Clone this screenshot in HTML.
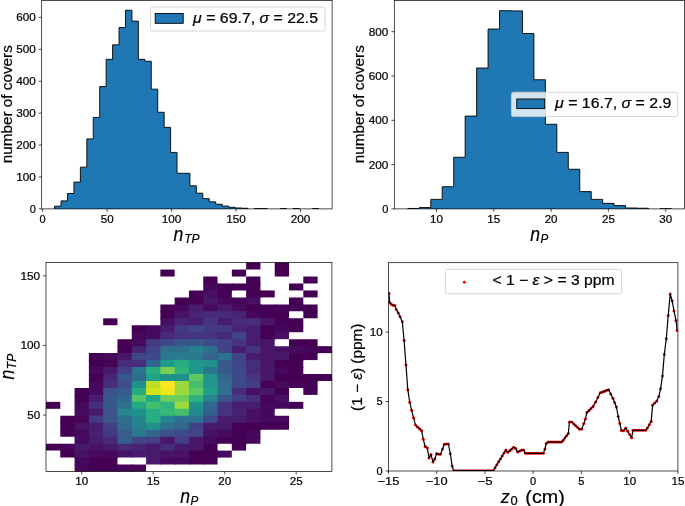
<!DOCTYPE html>
<html><head><meta charset="utf-8"><title>chart</title>
<style>html,body{margin:0;padding:0;background:#fff}svg{display:block;will-change:transform}text{filter:grayscale(1);stroke:#000;stroke-width:0.22px;font-family:"Liberation Sans",sans-serif}</style>
</head><body>
<svg width="685" height="506" viewBox="0 0 685 506" font-family="Liberation Sans, sans-serif">
<rect width="685" height="506" fill="#fff"/>
<clipPath id="c1"><rect x="41.7" y="0.5" width="290.40000000000003" height="208.4"/></clipPath>
<g clip-path="url(#c1)"><path d="M54.60,208.90L54.60,206.17L61.04,206.17L61.04,200.88L67.49,200.88L67.49,193.49L73.93,193.49L73.93,182.10L80.38,182.10L80.38,167.17L86.82,167.17L86.82,138.92L93.26,138.92L93.26,117.42L99.71,117.42L99.71,86.60L106.15,86.60L106.15,59.32L112.60,59.32L112.60,44.87L119.04,44.87L119.04,27.54L125.48,27.54L125.48,10.21L131.93,10.21L131.93,21.12L138.37,21.12L138.37,59.32L144.82,59.32L144.82,61.24L151.26,61.24L151.26,89.17L157.70,89.17L157.70,112.28L164.15,112.28L164.15,127.37L170.59,127.37L170.59,152.41L177.04,152.41L177.04,173.27L183.48,173.27L183.48,173.27L189.92,173.27L189.92,185.79L196.37,185.79L196.37,193.17L202.81,193.17L202.81,198.63L209.26,198.63L209.26,201.84L215.70,201.84L215.70,204.25L222.14,204.25L222.14,206.01L228.59,206.01L228.59,207.30L235.03,207.30L235.03,207.94L241.48,207.94L241.48,208.26L247.92,208.26L247.92,208.90L254.36,208.90L254.36,208.58L260.81,208.58L260.81,208.58L267.25,208.58L267.25,208.90L273.70,208.90L273.70,208.90L280.14,208.90L280.14,208.58L286.58,208.58L286.58,208.90L293.03,208.90L293.03,208.58L299.47,208.58L299.47,208.90L305.92,208.90L305.92,208.90L312.36,208.90L312.36,208.58L318.80,208.58L318.80,208.90Z" fill="#1f77b4"/><path d="M54.60,208.90L54.60,206.17L61.04,206.17L61.04,200.88L67.49,200.88L67.49,193.49L73.93,193.49L73.93,182.10L80.38,182.10L80.38,167.17L86.82,167.17L86.82,138.92L93.26,138.92L93.26,117.42L99.71,117.42L99.71,86.60L106.15,86.60L106.15,59.32L112.60,59.32L112.60,44.87L119.04,44.87L119.04,27.54L125.48,27.54L125.48,10.21L131.93,10.21L131.93,21.12L138.37,21.12L138.37,59.32L144.82,59.32L144.82,61.24L151.26,61.24L151.26,89.17L157.70,89.17L157.70,112.28L164.15,112.28L164.15,127.37L170.59,127.37L170.59,152.41L177.04,152.41L177.04,173.27L183.48,173.27L183.48,173.27L189.92,173.27L189.92,185.79L196.37,185.79L196.37,193.17L202.81,193.17L202.81,198.63L209.26,198.63L209.26,201.84L215.70,201.84L215.70,204.25L222.14,204.25L222.14,206.01L228.59,206.01L228.59,207.30L235.03,207.30L235.03,207.94L241.48,207.94L241.48,208.26L247.92,208.26L247.92,208.90M254.36,208.90L254.36,208.58L260.81,208.58L260.81,208.58L267.25,208.58L267.25,208.90M280.14,208.90L280.14,208.58L286.58,208.58L286.58,208.90M293.03,208.90L293.03,208.58L299.47,208.58L299.47,208.90M312.36,208.90L312.36,208.58L318.80,208.58L318.80,208.90" fill="none" stroke="#000" stroke-width="0.9" stroke-linejoin="miter"/></g>
<rect x="41.70" y="0.50" width="290.40" height="208.40" fill="none" stroke="#000" stroke-width="0.7"/>
<line x1="41.70" y1="208.90" x2="38.80" y2="208.90" stroke="#000" stroke-width="0.7"/>
<text x="35.80" y="212.80" font-size="10.81" text-anchor="end" fill="#000" textLength="6.14" lengthAdjust="spacingAndGlyphs">0</text>
<line x1="41.70" y1="176.97" x2="38.80" y2="176.97" stroke="#000" stroke-width="0.7"/>
<text x="35.80" y="180.87" font-size="10.81" text-anchor="end" fill="#000" textLength="19.63" lengthAdjust="spacingAndGlyphs">100</text>
<line x1="41.70" y1="145.04" x2="38.80" y2="145.04" stroke="#000" stroke-width="0.7"/>
<text x="35.80" y="148.94" font-size="10.81" text-anchor="end" fill="#000" textLength="19.63" lengthAdjust="spacingAndGlyphs">200</text>
<line x1="41.70" y1="113.11" x2="38.80" y2="113.11" stroke="#000" stroke-width="0.7"/>
<text x="35.80" y="117.01" font-size="10.81" text-anchor="end" fill="#000" textLength="19.63" lengthAdjust="spacingAndGlyphs">300</text>
<line x1="41.70" y1="81.18" x2="38.80" y2="81.18" stroke="#000" stroke-width="0.7"/>
<text x="35.80" y="85.08" font-size="10.81" text-anchor="end" fill="#000" textLength="19.63" lengthAdjust="spacingAndGlyphs">400</text>
<line x1="41.70" y1="49.25" x2="38.80" y2="49.25" stroke="#000" stroke-width="0.7"/>
<text x="35.80" y="53.15" font-size="10.81" text-anchor="end" fill="#000" textLength="19.63" lengthAdjust="spacingAndGlyphs">500</text>
<line x1="41.70" y1="17.32" x2="38.80" y2="17.32" stroke="#000" stroke-width="0.7"/>
<text x="35.80" y="21.22" font-size="10.81" text-anchor="end" fill="#000" textLength="19.63" lengthAdjust="spacingAndGlyphs">600</text>
<line x1="42.70" y1="208.90" x2="42.70" y2="211.80" stroke="#000" stroke-width="0.7"/>
<text x="42.70" y="222.50" font-size="10.81" text-anchor="middle" fill="#000" textLength="6.14" lengthAdjust="spacingAndGlyphs">0</text>
<line x1="107.14" y1="208.90" x2="107.14" y2="211.80" stroke="#000" stroke-width="0.7"/>
<text x="107.14" y="222.50" font-size="10.81" text-anchor="middle" fill="#000" textLength="12.89" lengthAdjust="spacingAndGlyphs">50</text>
<line x1="171.57" y1="208.90" x2="171.57" y2="211.80" stroke="#000" stroke-width="0.7"/>
<text x="171.57" y="222.50" font-size="10.81" text-anchor="middle" fill="#000" textLength="19.63" lengthAdjust="spacingAndGlyphs">100</text>
<line x1="236.00" y1="208.90" x2="236.00" y2="211.80" stroke="#000" stroke-width="0.7"/>
<text x="236.00" y="222.50" font-size="10.81" text-anchor="middle" fill="#000" textLength="19.63" lengthAdjust="spacingAndGlyphs">150</text>
<line x1="300.44" y1="208.90" x2="300.44" y2="211.80" stroke="#000" stroke-width="0.7"/>
<text x="300.44" y="222.50" font-size="10.81" text-anchor="middle" fill="#000" textLength="19.63" lengthAdjust="spacingAndGlyphs">200</text>
<text x="12.50" y="104.20" font-size="14.30" text-anchor="middle" fill="#000" textLength="118.00" lengthAdjust="spacingAndGlyphs" transform="rotate(-90 12.50 104.20)">number of covers</text>
<text x="173.50" y="240.60" font-size="20.20" text-anchor="start" fill="#000" font-style="italic" textLength="9.80" lengthAdjust="spacingAndGlyphs">n</text>
<text x="184.20" y="242.80" font-size="12.65" text-anchor="start" fill="#000" font-style="italic" textLength="15.40" lengthAdjust="spacingAndGlyphs">TP</text>
<rect x="150.50" y="7.00" width="174.60" height="24.00" rx="2.2" fill="#fff" fill-opacity="0.8" stroke="#ccc" stroke-width="0.8"/>
<rect x="155.2" y="13.5" width="28" height="9.8" fill="#1f77b4" stroke="#000" stroke-width="0.9"/>
<text x="193.10" y="23.40" font-size="13.9" textLength="125.00" lengthAdjust="spacingAndGlyphs"><tspan font-style="italic">μ</tspan> = 69.7, <tspan font-style="italic">σ</tspan> = 22.5</text>
<clipPath id="c2"><rect x="394.3" y="0.5" width="290.2" height="208.4"/></clipPath>
<g clip-path="url(#c2)"><path d="M407.85,208.90L407.85,208.46L419.31,208.46L419.31,207.57L430.77,207.57L430.77,199.38L442.23,199.38L442.23,186.75L453.69,186.75L453.69,157.29L465.15,157.29L465.15,116.09L476.61,116.09L476.61,68.03L488.07,68.03L488.07,29.04L499.53,29.04L499.53,10.66L510.99,10.66L510.99,10.88L522.45,10.88L522.45,33.47L533.91,33.47L533.91,79.77L545.37,79.77L545.37,124.29L556.83,124.29L556.83,152.42L568.29,152.42L568.29,169.25L579.75,169.25L579.75,191.62L591.21,191.62L591.21,199.38L602.67,199.38L602.67,203.36L614.13,203.36L614.13,205.58L625.59,205.58L625.59,208.01L637.05,208.01L637.05,208.24L648.51,208.24L648.51,208.90L659.97,208.90L659.97,208.68L671.43,208.68L671.43,208.90Z" fill="#1f77b4"/><path d="M407.85,208.90L407.85,208.46L419.31,208.46L419.31,207.57L430.77,207.57L430.77,199.38L442.23,199.38L442.23,186.75L453.69,186.75L453.69,157.29L465.15,157.29L465.15,116.09L476.61,116.09L476.61,68.03L488.07,68.03L488.07,29.04L499.53,29.04L499.53,10.66L510.99,10.66L510.99,10.88L522.45,10.88L522.45,33.47L533.91,33.47L533.91,79.77L545.37,79.77L545.37,124.29L556.83,124.29L556.83,152.42L568.29,152.42L568.29,169.25L579.75,169.25L579.75,191.62L591.21,191.62L591.21,199.38L602.67,199.38L602.67,203.36L614.13,203.36L614.13,205.58L625.59,205.58L625.59,208.01L637.05,208.01L637.05,208.24L648.51,208.24L648.51,208.90M659.97,208.90L659.97,208.68L671.43,208.68L671.43,208.90" fill="none" stroke="#000" stroke-width="0.9" stroke-linejoin="miter"/></g>
<rect x="394.30" y="0.50" width="290.20" height="208.40" fill="none" stroke="#000" stroke-width="0.7"/>
<line x1="394.30" y1="208.90" x2="391.40" y2="208.90" stroke="#000" stroke-width="0.7"/>
<text x="388.40" y="212.80" font-size="10.81" text-anchor="end" fill="#000" textLength="6.14" lengthAdjust="spacingAndGlyphs">0</text>
<line x1="394.30" y1="164.60" x2="391.40" y2="164.60" stroke="#000" stroke-width="0.7"/>
<text x="388.40" y="168.50" font-size="10.81" text-anchor="end" fill="#000" textLength="19.63" lengthAdjust="spacingAndGlyphs">200</text>
<line x1="394.30" y1="120.30" x2="391.40" y2="120.30" stroke="#000" stroke-width="0.7"/>
<text x="388.40" y="124.20" font-size="10.81" text-anchor="end" fill="#000" textLength="19.63" lengthAdjust="spacingAndGlyphs">400</text>
<line x1="394.30" y1="76.00" x2="391.40" y2="76.00" stroke="#000" stroke-width="0.7"/>
<text x="388.40" y="79.90" font-size="10.81" text-anchor="end" fill="#000" textLength="19.63" lengthAdjust="spacingAndGlyphs">600</text>
<line x1="394.30" y1="31.70" x2="391.40" y2="31.70" stroke="#000" stroke-width="0.7"/>
<text x="388.40" y="35.60" font-size="10.81" text-anchor="end" fill="#000" textLength="19.63" lengthAdjust="spacingAndGlyphs">800</text>
<line x1="436.50" y1="208.90" x2="436.50" y2="211.80" stroke="#000" stroke-width="0.7"/>
<text x="436.50" y="222.50" font-size="10.81" text-anchor="middle" fill="#000" textLength="12.89" lengthAdjust="spacingAndGlyphs">10</text>
<line x1="493.80" y1="208.90" x2="493.80" y2="211.80" stroke="#000" stroke-width="0.7"/>
<text x="493.80" y="222.50" font-size="10.81" text-anchor="middle" fill="#000" textLength="12.89" lengthAdjust="spacingAndGlyphs">15</text>
<line x1="551.10" y1="208.90" x2="551.10" y2="211.80" stroke="#000" stroke-width="0.7"/>
<text x="551.10" y="222.50" font-size="10.81" text-anchor="middle" fill="#000" textLength="12.89" lengthAdjust="spacingAndGlyphs">20</text>
<line x1="608.40" y1="208.90" x2="608.40" y2="211.80" stroke="#000" stroke-width="0.7"/>
<text x="608.40" y="222.50" font-size="10.81" text-anchor="middle" fill="#000" textLength="12.89" lengthAdjust="spacingAndGlyphs">25</text>
<line x1="665.70" y1="208.90" x2="665.70" y2="211.80" stroke="#000" stroke-width="0.7"/>
<text x="665.70" y="222.50" font-size="10.81" text-anchor="middle" fill="#000" textLength="12.89" lengthAdjust="spacingAndGlyphs">30</text>
<text x="364.30" y="104.20" font-size="14.30" text-anchor="middle" fill="#000" textLength="118.00" lengthAdjust="spacingAndGlyphs" transform="rotate(-90 364.30 104.20)">number of covers</text>
<text x="530.20" y="240.60" font-size="20.20" text-anchor="start" fill="#000" font-style="italic" textLength="9.80" lengthAdjust="spacingAndGlyphs">n</text>
<text x="540.60" y="242.80" font-size="12.65" text-anchor="start" fill="#000" font-style="italic" textLength="7.80" lengthAdjust="spacingAndGlyphs">P</text>
<rect x="511.40" y="92.20" width="166.30" height="24.40" rx="2.2" fill="#fff" fill-opacity="0.8" stroke="#ccc" stroke-width="0.8"/>
<rect x="516.8" y="99.0" width="27.9" height="9.6" fill="#1f77b4" stroke="#000" stroke-width="0.9"/>
<text x="555.00" y="108.10" font-size="13.9" textLength="116.40" lengthAdjust="spacingAndGlyphs"><tspan font-style="italic">μ</tspan> = 16.7, <tspan font-style="italic">σ</tspan> = 2.9</text>
<g>
<path d="M246.13,262.60h14.29v6.96h-14.29z" fill="#440154"/>
<path d="M274.72,262.60h14.29v6.96h-14.29zM274.72,269.46h14.29v1.10h-14.29z" fill="#440154"/>
<path d="M160.36,269.56h14.29v6.96h-14.29z" fill="#440154"/>
<path d="M231.83,269.56h14.29v6.96h-14.29z" fill="#440154"/>
<path d="M274.72,269.56h14.29v6.96h-14.29z" fill="#440154"/>
<path d="M203.24,276.53h14.29v6.96h-14.29zM203.24,283.39h14.29v1.10h-14.29z" fill="#440154"/>
<path d="M246.13,276.53h14.29v6.96h-14.29zM246.13,283.39h14.29v1.10h-14.29z" fill="#440154"/>
<path d="M303.31,276.53h14.29v6.96h-14.29z" fill="#440154"/>
<path d="M203.24,283.49h14.29v6.96h-14.29zM217.44,283.49h1.10v6.96h-1.10zM203.24,290.35h14.29v1.10h-14.29z" fill="#46085c"/>
<path d="M217.54,283.49h14.29v6.96h-14.29zM231.73,283.49h1.10v6.96h-1.10zM217.54,290.35h14.29v1.10h-14.29z" fill="#440154"/>
<path d="M231.83,283.49h14.29v6.96h-14.29zM246.03,283.49h1.10v6.96h-1.10z" fill="#440154"/>
<path d="M246.13,283.49h14.29v6.96h-14.29zM246.13,290.35h14.29v1.10h-14.29z" fill="#440154"/>
<path d="M289.01,283.49h14.29v6.96h-14.29z" fill="#440154"/>
<path d="M188.95,290.45h14.29v6.96h-14.29zM203.14,290.45h1.10v6.96h-1.10zM188.95,297.32h14.29v1.10h-14.29z" fill="#450457"/>
<path d="M203.24,290.45h14.29v6.96h-14.29zM217.44,290.45h1.10v6.96h-1.10zM203.24,297.32h14.29v1.10h-14.29z" fill="#471063"/>
<path d="M217.54,290.45h14.29v6.96h-14.29zM217.54,297.32h14.29v1.10h-14.29z" fill="#440154"/>
<path d="M246.13,290.45h14.29v6.96h-14.29zM260.32,290.45h1.10v6.96h-1.10zM246.13,297.32h14.29v1.10h-14.29z" fill="#440154"/>
<path d="M260.42,290.45h14.29v6.96h-14.29z" fill="#440154"/>
<path d="M303.31,290.45h14.29v6.96h-14.29z" fill="#440154"/>
<path d="M174.65,297.42h14.29v6.96h-14.29zM188.85,297.42h1.10v6.96h-1.10zM174.65,304.28h14.29v1.10h-14.29z" fill="#440154"/>
<path d="M188.95,297.42h14.29v6.96h-14.29zM203.14,297.42h1.10v6.96h-1.10zM188.95,304.28h14.29v1.10h-14.29z" fill="#440154"/>
<path d="M203.24,297.42h14.29v6.96h-14.29zM217.44,297.42h1.10v6.96h-1.10zM203.24,304.28h14.29v1.10h-14.29z" fill="#481769"/>
<path d="M217.54,297.42h14.29v6.96h-14.29zM231.73,297.42h1.10v6.96h-1.10zM217.54,304.28h14.29v1.10h-14.29z" fill="#46085c"/>
<path d="M231.83,297.42h14.29v6.96h-14.29zM246.03,297.42h1.10v6.96h-1.10zM231.83,304.28h14.29v1.10h-14.29z" fill="#450457"/>
<path d="M246.13,297.42h14.29v6.96h-14.29zM246.13,304.28h14.29v1.10h-14.29z" fill="#471063"/>
<path d="M289.01,297.42h14.29v6.96h-14.29zM289.01,304.28h14.29v1.10h-14.29z" fill="#440154"/>
<path d="M160.36,304.38h14.29v6.96h-14.29zM174.55,304.38h1.10v6.96h-1.10zM160.36,311.24h14.29v1.10h-14.29z" fill="#440154"/>
<path d="M174.65,304.38h14.29v6.96h-14.29zM188.85,304.38h1.10v6.96h-1.10zM174.65,311.24h14.29v1.10h-14.29z" fill="#46085c"/>
<path d="M188.95,304.38h14.29v6.96h-14.29zM203.14,304.38h1.10v6.96h-1.10zM188.95,311.24h14.29v1.10h-14.29z" fill="#481d6f"/>
<path d="M203.24,304.38h14.29v6.96h-14.29zM217.44,304.38h1.10v6.96h-1.10zM203.24,311.24h14.29v1.10h-14.29z" fill="#460b5e"/>
<path d="M217.54,304.38h14.29v6.96h-14.29zM231.73,304.38h1.10v6.96h-1.10zM217.54,311.24h14.29v1.10h-14.29z" fill="#481a6c"/>
<path d="M231.83,304.38h14.29v6.96h-14.29zM246.03,304.38h1.10v6.96h-1.10zM231.83,311.24h14.29v1.10h-14.29z" fill="#460b5e"/>
<path d="M246.13,304.38h14.29v6.96h-14.29zM260.32,304.38h1.10v6.96h-1.10zM246.13,311.24h14.29v1.10h-14.29z" fill="#440154"/>
<path d="M260.42,304.38h14.29v6.96h-14.29zM274.62,304.38h1.10v6.96h-1.10zM260.42,311.24h14.29v1.10h-14.29z" fill="#440154"/>
<path d="M274.72,304.38h14.29v6.96h-14.29zM288.91,304.38h1.10v6.96h-1.10zM274.72,311.24h14.29v1.10h-14.29z" fill="#450457"/>
<path d="M289.01,304.38h14.29v6.96h-14.29zM303.21,304.38h1.10v6.96h-1.10z" fill="#450457"/>
<path d="M303.31,304.38h14.29v6.96h-14.29zM303.31,311.24h14.29v1.10h-14.29z" fill="#440154"/>
<path d="M160.36,311.34h14.29v6.96h-14.29zM174.55,311.34h1.10v6.96h-1.10zM160.36,318.21h14.29v1.10h-14.29z" fill="#440154"/>
<path d="M174.65,311.34h14.29v6.96h-14.29zM188.85,311.34h1.10v6.96h-1.10zM174.65,318.21h14.29v1.10h-14.29z" fill="#471365"/>
<path d="M188.95,311.34h14.29v6.96h-14.29zM203.14,311.34h1.10v6.96h-1.10zM188.95,318.21h14.29v1.10h-14.29z" fill="#482475"/>
<path d="M203.24,311.34h14.29v6.96h-14.29zM217.44,311.34h1.10v6.96h-1.10zM203.24,318.21h14.29v1.10h-14.29z" fill="#472a7a"/>
<path d="M217.54,311.34h14.29v6.96h-14.29zM231.73,311.34h1.10v6.96h-1.10zM217.54,318.21h14.29v1.10h-14.29z" fill="#472a7a"/>
<path d="M231.83,311.34h14.29v6.96h-14.29zM246.03,311.34h1.10v6.96h-1.10zM231.83,318.21h14.29v1.10h-14.29z" fill="#482475"/>
<path d="M246.13,311.34h14.29v6.96h-14.29zM260.32,311.34h1.10v6.96h-1.10zM246.13,318.21h14.29v1.10h-14.29z" fill="#46085c"/>
<path d="M260.42,311.34h14.29v6.96h-14.29zM274.62,311.34h1.10v6.96h-1.10zM260.42,318.21h14.29v1.10h-14.29z" fill="#440154"/>
<path d="M274.72,311.34h14.29v6.96h-14.29zM274.72,318.21h14.29v1.10h-14.29z" fill="#440154"/>
<path d="M303.31,311.34h14.29v6.96h-14.29z" fill="#440154"/>
<path d="M103.18,318.31h14.29v6.96h-14.29z" fill="#440154"/>
<path d="M160.36,318.31h14.29v6.96h-14.29zM174.55,318.31h1.10v6.96h-1.10zM160.36,325.17h14.29v1.10h-14.29z" fill="#471063"/>
<path d="M174.65,318.31h14.29v6.96h-14.29zM188.85,318.31h1.10v6.96h-1.10zM174.65,325.17h14.29v1.10h-14.29z" fill="#482475"/>
<path d="M188.95,318.31h14.29v6.96h-14.29zM203.14,318.31h1.10v6.96h-1.10zM188.95,325.17h14.29v1.10h-14.29z" fill="#481d6f"/>
<path d="M203.24,318.31h14.29v6.96h-14.29zM217.44,318.31h1.10v6.96h-1.10zM203.24,325.17h14.29v1.10h-14.29z" fill="#463480"/>
<path d="M217.54,318.31h14.29v6.96h-14.29zM231.73,318.31h1.10v6.96h-1.10zM217.54,325.17h14.29v1.10h-14.29z" fill="#481a6c"/>
<path d="M231.83,318.31h14.29v6.96h-14.29zM246.03,318.31h1.10v6.96h-1.10zM231.83,325.17h14.29v1.10h-14.29z" fill="#472a7a"/>
<path d="M246.13,318.31h14.29v6.96h-14.29zM260.32,318.31h1.10v6.96h-1.10zM246.13,325.17h14.29v1.10h-14.29z" fill="#472e7c"/>
<path d="M260.42,318.31h14.29v6.96h-14.29zM274.62,318.31h1.10v6.96h-1.10zM260.42,325.17h14.29v1.10h-14.29z" fill="#481769"/>
<path d="M274.72,318.31h14.29v6.96h-14.29zM288.91,318.31h1.10v6.96h-1.10zM274.72,325.17h14.29v1.10h-14.29z" fill="#450457"/>
<path d="M289.01,318.31h14.29v6.96h-14.29zM289.01,325.17h14.29v1.10h-14.29z" fill="#440154"/>
<path d="M131.77,325.27h14.29v6.96h-14.29zM145.96,325.27h1.10v6.96h-1.10zM131.77,332.13h14.29v1.10h-14.29z" fill="#440154"/>
<path d="M146.06,325.27h14.29v6.96h-14.29zM160.26,325.27h1.10v6.96h-1.10zM146.06,332.13h14.29v1.10h-14.29z" fill="#460b5e"/>
<path d="M160.36,325.27h14.29v6.96h-14.29zM174.55,325.27h1.10v6.96h-1.10zM160.36,332.13h14.29v1.10h-14.29z" fill="#481d6f"/>
<path d="M174.65,325.27h14.29v6.96h-14.29zM188.85,325.27h1.10v6.96h-1.10zM174.65,332.13h14.29v1.10h-14.29z" fill="#443a83"/>
<path d="M188.95,325.27h14.29v6.96h-14.29zM203.14,325.27h1.10v6.96h-1.10zM188.95,332.13h14.29v1.10h-14.29z" fill="#414487"/>
<path d="M203.24,325.27h14.29v6.96h-14.29zM217.44,325.27h1.10v6.96h-1.10zM203.24,332.13h14.29v1.10h-14.29z" fill="#443a83"/>
<path d="M217.54,325.27h14.29v6.96h-14.29zM231.73,325.27h1.10v6.96h-1.10zM217.54,332.13h14.29v1.10h-14.29z" fill="#443a83"/>
<path d="M231.83,325.27h14.29v6.96h-14.29zM246.03,325.27h1.10v6.96h-1.10zM231.83,332.13h14.29v1.10h-14.29z" fill="#482475"/>
<path d="M246.13,325.27h14.29v6.96h-14.29zM260.32,325.27h1.10v6.96h-1.10zM246.13,332.13h14.29v1.10h-14.29z" fill="#481d6f"/>
<path d="M260.42,325.27h14.29v6.96h-14.29zM274.62,325.27h1.10v6.96h-1.10zM260.42,332.13h14.29v1.10h-14.29z" fill="#440154"/>
<path d="M274.72,325.27h14.29v6.96h-14.29zM288.91,325.27h1.10v6.96h-1.10zM274.72,332.13h14.29v1.10h-14.29z" fill="#46085c"/>
<path d="M289.01,325.27h14.29v6.96h-14.29z" fill="#440154"/>
<path d="M131.77,332.23h14.29v6.96h-14.29zM145.96,332.23h1.10v6.96h-1.10zM131.77,339.10h14.29v1.10h-14.29z" fill="#46085c"/>
<path d="M146.06,332.23h14.29v6.96h-14.29zM160.26,332.23h1.10v6.96h-1.10zM146.06,339.10h14.29v1.10h-14.29z" fill="#460b5e"/>
<path d="M160.36,332.23h14.29v6.96h-14.29zM174.55,332.23h1.10v6.96h-1.10zM160.36,339.10h14.29v1.10h-14.29z" fill="#472a7a"/>
<path d="M174.65,332.23h14.29v6.96h-14.29zM188.85,332.23h1.10v6.96h-1.10zM174.65,339.10h14.29v1.10h-14.29z" fill="#463480"/>
<path d="M188.95,332.23h14.29v6.96h-14.29zM203.14,332.23h1.10v6.96h-1.10zM188.95,339.10h14.29v1.10h-14.29z" fill="#463480"/>
<path d="M203.24,332.23h14.29v6.96h-14.29zM217.44,332.23h1.10v6.96h-1.10zM203.24,339.10h14.29v1.10h-14.29z" fill="#463480"/>
<path d="M217.54,332.23h14.29v6.96h-14.29zM231.73,332.23h1.10v6.96h-1.10zM217.54,339.10h14.29v1.10h-14.29z" fill="#472a7a"/>
<path d="M231.83,332.23h14.29v6.96h-14.29zM246.03,332.23h1.10v6.96h-1.10zM231.83,339.10h14.29v1.10h-14.29z" fill="#414487"/>
<path d="M246.13,332.23h14.29v6.96h-14.29zM260.32,332.23h1.10v6.96h-1.10zM246.13,339.10h14.29v1.10h-14.29z" fill="#481d6f"/>
<path d="M260.42,332.23h14.29v6.96h-14.29zM274.62,332.23h1.10v6.96h-1.10zM260.42,339.10h14.29v1.10h-14.29z" fill="#440154"/>
<path d="M274.72,332.23h14.29v6.96h-14.29z" fill="#471063"/>
<path d="M117.47,339.20h14.29v6.96h-14.29zM131.67,339.20h1.10v6.96h-1.10zM117.47,346.06h14.29v1.10h-14.29z" fill="#440154"/>
<path d="M131.77,339.20h14.29v6.96h-14.29zM145.96,339.20h1.10v6.96h-1.10zM131.77,346.06h14.29v1.10h-14.29z" fill="#460b5e"/>
<path d="M146.06,339.20h14.29v6.96h-14.29zM160.26,339.20h1.10v6.96h-1.10zM146.06,346.06h14.29v1.10h-14.29z" fill="#443a83"/>
<path d="M160.36,339.20h14.29v6.96h-14.29zM174.55,339.20h1.10v6.96h-1.10zM160.36,346.06h14.29v1.10h-14.29z" fill="#3e4989"/>
<path d="M174.65,339.20h14.29v6.96h-14.29zM188.85,339.20h1.10v6.96h-1.10zM174.65,346.06h14.29v1.10h-14.29z" fill="#38588c"/>
<path d="M188.95,339.20h14.29v6.96h-14.29zM203.14,339.20h1.10v6.96h-1.10zM188.95,346.06h14.29v1.10h-14.29z" fill="#38588c"/>
<path d="M203.24,339.20h14.29v6.96h-14.29zM217.44,339.20h1.10v6.96h-1.10zM203.24,346.06h14.29v1.10h-14.29z" fill="#3e4c8a"/>
<path d="M217.54,339.20h14.29v6.96h-14.29zM231.73,339.20h1.10v6.96h-1.10zM217.54,346.06h14.29v1.10h-14.29z" fill="#414487"/>
<path d="M231.83,339.20h14.29v6.96h-14.29zM246.03,339.20h1.10v6.96h-1.10zM231.83,346.06h14.29v1.10h-14.29z" fill="#463480"/>
<path d="M246.13,339.20h14.29v6.96h-14.29zM260.32,339.20h1.10v6.96h-1.10zM246.13,346.06h14.29v1.10h-14.29z" fill="#481d6f"/>
<path d="M260.42,339.20h14.29v6.96h-14.29zM260.42,346.06h14.29v1.10h-14.29z" fill="#481769"/>
<path d="M289.01,339.20h14.29v6.96h-14.29zM303.21,339.20h1.10v6.96h-1.10zM289.01,346.06h14.29v1.10h-14.29z" fill="#440154"/>
<path d="M303.31,339.20h14.29v6.96h-14.29zM303.31,346.06h14.29v1.10h-14.29z" fill="#440154"/>
<path d="M117.47,346.16h14.29v6.96h-14.29zM131.67,346.16h1.10v6.96h-1.10zM117.47,353.02h14.29v1.10h-14.29z" fill="#440154"/>
<path d="M131.77,346.16h14.29v6.96h-14.29zM145.96,346.16h1.10v6.96h-1.10zM131.77,353.02h14.29v1.10h-14.29z" fill="#482475"/>
<path d="M146.06,346.16h14.29v6.96h-14.29zM160.26,346.16h1.10v6.96h-1.10zM146.06,353.02h14.29v1.10h-14.29z" fill="#414487"/>
<path d="M160.36,346.16h14.29v6.96h-14.29zM174.55,346.16h1.10v6.96h-1.10zM160.36,353.02h14.29v1.10h-14.29z" fill="#2d718e"/>
<path d="M174.65,346.16h14.29v6.96h-14.29zM188.85,346.16h1.10v6.96h-1.10zM174.65,353.02h14.29v1.10h-14.29z" fill="#2d718e"/>
<path d="M188.95,346.16h14.29v6.96h-14.29zM203.14,346.16h1.10v6.96h-1.10zM188.95,353.02h14.29v1.10h-14.29z" fill="#27808e"/>
<path d="M203.24,346.16h14.29v6.96h-14.29zM217.44,346.16h1.10v6.96h-1.10zM203.24,353.02h14.29v1.10h-14.29z" fill="#2d718e"/>
<path d="M217.54,346.16h14.29v6.96h-14.29zM231.73,346.16h1.10v6.96h-1.10zM217.54,353.02h14.29v1.10h-14.29z" fill="#414487"/>
<path d="M231.83,346.16h14.29v6.96h-14.29zM246.03,346.16h1.10v6.96h-1.10zM231.83,353.02h14.29v1.10h-14.29z" fill="#481d6f"/>
<path d="M246.13,346.16h14.29v6.96h-14.29zM260.32,346.16h1.10v6.96h-1.10zM246.13,353.02h14.29v1.10h-14.29z" fill="#463480"/>
<path d="M260.42,346.16h14.29v6.96h-14.29zM274.62,346.16h1.10v6.96h-1.10zM260.42,353.02h14.29v1.10h-14.29z" fill="#481769"/>
<path d="M274.72,346.16h14.29v6.96h-14.29zM288.91,346.16h1.10v6.96h-1.10zM274.72,353.02h14.29v1.10h-14.29z" fill="#471063"/>
<path d="M289.01,346.16h14.29v6.96h-14.29zM303.21,346.16h1.10v6.96h-1.10zM289.01,353.02h14.29v1.10h-14.29z" fill="#460b5e"/>
<path d="M303.31,346.16h14.29v6.96h-14.29zM317.50,346.16h1.10v6.96h-1.10zM303.31,353.02h14.29v1.10h-14.29z" fill="#450457"/>
<path d="M317.60,346.16h14.29v6.96h-14.29z" fill="#440154"/>
<path d="M88.88,353.12h14.29v6.96h-14.29zM103.08,353.12h1.10v6.96h-1.10zM88.88,359.99h14.29v1.10h-14.29z" fill="#440154"/>
<path d="M103.18,353.12h14.29v6.96h-14.29zM117.38,353.12h1.10v6.96h-1.10zM103.18,359.99h14.29v1.10h-14.29z" fill="#46085c"/>
<path d="M117.47,353.12h14.29v6.96h-14.29zM131.67,353.12h1.10v6.96h-1.10zM117.47,359.99h14.29v1.10h-14.29z" fill="#481769"/>
<path d="M131.77,353.12h14.29v6.96h-14.29zM145.96,353.12h1.10v6.96h-1.10zM131.77,359.99h14.29v1.10h-14.29z" fill="#414487"/>
<path d="M146.06,353.12h14.29v6.96h-14.29zM160.26,353.12h1.10v6.96h-1.10zM146.06,359.99h14.29v1.10h-14.29z" fill="#3e4989"/>
<path d="M160.36,353.12h14.29v6.96h-14.29zM174.55,353.12h1.10v6.96h-1.10zM160.36,359.99h14.29v1.10h-14.29z" fill="#2a788e"/>
<path d="M174.65,353.12h14.29v6.96h-14.29zM188.85,353.12h1.10v6.96h-1.10zM174.65,359.99h14.29v1.10h-14.29z" fill="#287d8e"/>
<path d="M188.95,353.12h14.29v6.96h-14.29zM203.14,353.12h1.10v6.96h-1.10zM188.95,359.99h14.29v1.10h-14.29z" fill="#2a788e"/>
<path d="M203.24,353.12h14.29v6.96h-14.29zM217.44,353.12h1.10v6.96h-1.10zM203.24,359.99h14.29v1.10h-14.29z" fill="#32648e"/>
<path d="M217.54,353.12h14.29v6.96h-14.29zM231.73,353.12h1.10v6.96h-1.10zM217.54,359.99h14.29v1.10h-14.29z" fill="#2c738e"/>
<path d="M231.83,353.12h14.29v6.96h-14.29zM246.03,353.12h1.10v6.96h-1.10zM231.83,359.99h14.29v1.10h-14.29z" fill="#414487"/>
<path d="M246.13,353.12h14.29v6.96h-14.29zM260.32,353.12h1.10v6.96h-1.10zM246.13,359.99h14.29v1.10h-14.29z" fill="#481d6f"/>
<path d="M260.42,353.12h14.29v6.96h-14.29zM274.62,353.12h1.10v6.96h-1.10zM260.42,359.99h14.29v1.10h-14.29z" fill="#481769"/>
<path d="M274.72,353.12h14.29v6.96h-14.29zM288.91,353.12h1.10v6.96h-1.10zM274.72,359.99h14.29v1.10h-14.29z" fill="#481769"/>
<path d="M289.01,353.12h14.29v6.96h-14.29zM303.21,353.12h1.10v6.96h-1.10zM289.01,359.99h14.29v1.10h-14.29z" fill="#440154"/>
<path d="M303.31,353.12h14.29v6.96h-14.29z" fill="#440154"/>
<path d="M88.88,360.09h14.29v6.96h-14.29zM103.08,360.09h1.10v6.96h-1.10zM88.88,366.95h14.29v1.10h-14.29z" fill="#440154"/>
<path d="M103.18,360.09h14.29v6.96h-14.29zM117.38,360.09h1.10v6.96h-1.10zM103.18,366.95h14.29v1.10h-14.29z" fill="#450457"/>
<path d="M117.47,360.09h14.29v6.96h-14.29zM131.67,360.09h1.10v6.96h-1.10zM117.47,366.95h14.29v1.10h-14.29z" fill="#472e7c"/>
<path d="M131.77,360.09h14.29v6.96h-14.29zM145.96,360.09h1.10v6.96h-1.10zM131.77,366.95h14.29v1.10h-14.29z" fill="#472e7c"/>
<path d="M146.06,360.09h14.29v6.96h-14.29zM160.26,360.09h1.10v6.96h-1.10zM146.06,366.95h14.29v1.10h-14.29z" fill="#31678e"/>
<path d="M160.36,360.09h14.29v6.96h-14.29zM174.55,360.09h1.10v6.96h-1.10zM160.36,366.95h14.29v1.10h-14.29z" fill="#1e9c89"/>
<path d="M174.65,360.09h14.29v6.96h-14.29zM188.85,360.09h1.10v6.96h-1.10zM174.65,366.95h14.29v1.10h-14.29z" fill="#26ad81"/>
<path d="M188.95,360.09h14.29v6.96h-14.29zM203.14,360.09h1.10v6.96h-1.10zM188.95,366.95h14.29v1.10h-14.29z" fill="#1f978b"/>
<path d="M203.24,360.09h14.29v6.96h-14.29zM217.44,360.09h1.10v6.96h-1.10zM203.24,366.95h14.29v1.10h-14.29z" fill="#21918c"/>
<path d="M217.54,360.09h14.29v6.96h-14.29zM231.73,360.09h1.10v6.96h-1.10zM217.54,366.95h14.29v1.10h-14.29z" fill="#375a8c"/>
<path d="M231.83,360.09h14.29v6.96h-14.29zM246.03,360.09h1.10v6.96h-1.10zM231.83,366.95h14.29v1.10h-14.29z" fill="#414487"/>
<path d="M246.13,360.09h14.29v6.96h-14.29zM260.32,360.09h1.10v6.96h-1.10zM246.13,366.95h14.29v1.10h-14.29z" fill="#472e7c"/>
<path d="M260.42,360.09h14.29v6.96h-14.29zM274.62,360.09h1.10v6.96h-1.10zM260.42,366.95h14.29v1.10h-14.29z" fill="#481769"/>
<path d="M274.72,360.09h14.29v6.96h-14.29zM288.91,360.09h1.10v6.96h-1.10zM274.72,366.95h14.29v1.10h-14.29z" fill="#440154"/>
<path d="M289.01,360.09h14.29v6.96h-14.29zM289.01,366.95h14.29v1.10h-14.29z" fill="#440154"/>
<path d="M88.88,367.05h14.29v6.96h-14.29zM103.08,367.05h1.10v6.96h-1.10zM88.88,373.91h14.29v1.10h-14.29z" fill="#46085c"/>
<path d="M103.18,367.05h14.29v6.96h-14.29zM117.38,367.05h1.10v6.96h-1.10zM103.18,373.91h14.29v1.10h-14.29z" fill="#481a6c"/>
<path d="M117.47,367.05h14.29v6.96h-14.29zM131.67,367.05h1.10v6.96h-1.10zM117.47,373.91h14.29v1.10h-14.29z" fill="#433e85"/>
<path d="M131.77,367.05h14.29v6.96h-14.29zM145.96,367.05h1.10v6.96h-1.10zM131.77,373.91h14.29v1.10h-14.29z" fill="#2c738e"/>
<path d="M146.06,367.05h14.29v6.96h-14.29zM160.26,367.05h1.10v6.96h-1.10zM146.06,373.91h14.29v1.10h-14.29z" fill="#26ad81"/>
<path d="M160.36,367.05h14.29v6.96h-14.29zM174.55,367.05h1.10v6.96h-1.10zM160.36,373.91h14.29v1.10h-14.29z" fill="#7ad151"/>
<path d="M174.65,367.05h14.29v6.96h-14.29zM188.85,367.05h1.10v6.96h-1.10zM174.65,373.91h14.29v1.10h-14.29z" fill="#2fb47c"/>
<path d="M188.95,367.05h14.29v6.96h-14.29zM203.14,367.05h1.10v6.96h-1.10zM188.95,373.91h14.29v1.10h-14.29z" fill="#1f978b"/>
<path d="M203.24,367.05h14.29v6.96h-14.29zM217.44,367.05h1.10v6.96h-1.10zM203.24,373.91h14.29v1.10h-14.29z" fill="#2a788e"/>
<path d="M217.54,367.05h14.29v6.96h-14.29zM231.73,367.05h1.10v6.96h-1.10zM217.54,373.91h14.29v1.10h-14.29z" fill="#375a8c"/>
<path d="M231.83,367.05h14.29v6.96h-14.29zM246.03,367.05h1.10v6.96h-1.10zM231.83,373.91h14.29v1.10h-14.29z" fill="#3e4989"/>
<path d="M246.13,367.05h14.29v6.96h-14.29zM260.32,367.05h1.10v6.96h-1.10zM246.13,373.91h14.29v1.10h-14.29z" fill="#482878"/>
<path d="M260.42,367.05h14.29v6.96h-14.29zM274.62,367.05h1.10v6.96h-1.10zM260.42,373.91h14.29v1.10h-14.29z" fill="#481769"/>
<path d="M274.72,367.05h14.29v6.96h-14.29zM288.91,367.05h1.10v6.96h-1.10zM274.72,373.91h14.29v1.10h-14.29z" fill="#46085c"/>
<path d="M289.01,367.05h14.29v6.96h-14.29zM289.01,373.91h14.29v1.10h-14.29z" fill="#440154"/>
<path d="M88.88,374.01h14.29v6.96h-14.29zM103.08,374.01h1.10v6.96h-1.10zM88.88,380.88h14.29v1.10h-14.29z" fill="#440154"/>
<path d="M103.18,374.01h14.29v6.96h-14.29zM117.38,374.01h1.10v6.96h-1.10zM103.18,380.88h14.29v1.10h-14.29z" fill="#482475"/>
<path d="M117.47,374.01h14.29v6.96h-14.29zM131.67,374.01h1.10v6.96h-1.10zM117.47,380.88h14.29v1.10h-14.29z" fill="#38588c"/>
<path d="M131.77,374.01h14.29v6.96h-14.29zM145.96,374.01h1.10v6.96h-1.10zM131.77,380.88h14.29v1.10h-14.29z" fill="#2f6c8e"/>
<path d="M146.06,374.01h14.29v6.96h-14.29zM160.26,374.01h1.10v6.96h-1.10zM146.06,380.88h14.29v1.10h-14.29z" fill="#20a386"/>
<path d="M160.36,374.01h14.29v6.96h-14.29zM174.55,374.01h1.10v6.96h-1.10zM160.36,380.88h14.29v1.10h-14.29z" fill="#21918c"/>
<path d="M174.65,374.01h14.29v6.96h-14.29zM188.85,374.01h1.10v6.96h-1.10zM174.65,380.88h14.29v1.10h-14.29z" fill="#21918c"/>
<path d="M188.95,374.01h14.29v6.96h-14.29zM203.14,374.01h1.10v6.96h-1.10zM188.95,380.88h14.29v1.10h-14.29z" fill="#5ec962"/>
<path d="M203.24,374.01h14.29v6.96h-14.29zM217.44,374.01h1.10v6.96h-1.10zM203.24,380.88h14.29v1.10h-14.29z" fill="#1f958b"/>
<path d="M217.54,374.01h14.29v6.96h-14.29zM231.73,374.01h1.10v6.96h-1.10zM217.54,380.88h14.29v1.10h-14.29z" fill="#31678e"/>
<path d="M231.83,374.01h14.29v6.96h-14.29zM246.03,374.01h1.10v6.96h-1.10zM231.83,380.88h14.29v1.10h-14.29z" fill="#3e4989"/>
<path d="M246.13,374.01h14.29v6.96h-14.29zM260.32,374.01h1.10v6.96h-1.10zM246.13,380.88h14.29v1.10h-14.29z" fill="#463480"/>
<path d="M260.42,374.01h14.29v6.96h-14.29zM274.62,374.01h1.10v6.96h-1.10zM260.42,380.88h14.29v1.10h-14.29z" fill="#481769"/>
<path d="M274.72,374.01h14.29v6.96h-14.29zM288.91,374.01h1.10v6.96h-1.10zM274.72,380.88h14.29v1.10h-14.29z" fill="#440154"/>
<path d="M289.01,374.01h14.29v6.96h-14.29zM303.21,374.01h1.10v6.96h-1.10zM289.01,380.88h14.29v1.10h-14.29z" fill="#440154"/>
<path d="M303.31,374.01h14.29v6.96h-14.29zM317.50,374.01h1.10v6.96h-1.10zM303.31,380.88h14.29v1.10h-14.29z" fill="#440154"/>
<path d="M317.60,374.01h14.29v6.96h-14.29z" fill="#440154"/>
<path d="M88.88,380.98h14.29v6.96h-14.29zM103.08,380.98h1.10v6.96h-1.10zM88.88,387.84h14.29v1.10h-14.29z" fill="#46085c"/>
<path d="M103.18,380.98h14.29v6.96h-14.29zM117.38,380.98h1.10v6.96h-1.10zM103.18,387.84h14.29v1.10h-14.29z" fill="#472e7c"/>
<path d="M117.47,380.98h14.29v6.96h-14.29zM131.67,380.98h1.10v6.96h-1.10zM117.47,387.84h14.29v1.10h-14.29z" fill="#3e4c8a"/>
<path d="M131.77,380.98h14.29v6.96h-14.29zM145.96,380.98h1.10v6.96h-1.10zM131.77,387.84h14.29v1.10h-14.29z" fill="#21918c"/>
<path d="M146.06,380.98h14.29v6.96h-14.29zM160.26,380.98h1.10v6.96h-1.10zM146.06,387.84h14.29v1.10h-14.29z" fill="#bddf26"/>
<path d="M160.36,380.98h14.29v6.96h-14.29zM174.55,380.98h1.10v6.96h-1.10zM160.36,387.84h14.29v1.10h-14.29z" fill="#fde725"/>
<path d="M174.65,380.98h14.29v6.96h-14.29zM188.85,380.98h1.10v6.96h-1.10zM174.65,387.84h14.29v1.10h-14.29z" fill="#9bd93c"/>
<path d="M188.95,380.98h14.29v6.96h-14.29zM203.14,380.98h1.10v6.96h-1.10zM188.95,387.84h14.29v1.10h-14.29z" fill="#44bf70"/>
<path d="M203.24,380.98h14.29v6.96h-14.29zM217.44,380.98h1.10v6.96h-1.10zM203.24,387.84h14.29v1.10h-14.29z" fill="#1f978b"/>
<path d="M217.54,380.98h14.29v6.96h-14.29zM231.73,380.98h1.10v6.96h-1.10zM217.54,387.84h14.29v1.10h-14.29z" fill="#2f6c8e"/>
<path d="M231.83,380.98h14.29v6.96h-14.29zM246.03,380.98h1.10v6.96h-1.10zM231.83,387.84h14.29v1.10h-14.29z" fill="#3e4989"/>
<path d="M246.13,380.98h14.29v6.96h-14.29zM260.32,380.98h1.10v6.96h-1.10zM246.13,387.84h14.29v1.10h-14.29z" fill="#433e85"/>
<path d="M260.42,380.98h14.29v6.96h-14.29zM274.62,380.98h1.10v6.96h-1.10zM260.42,387.84h14.29v1.10h-14.29z" fill="#440154"/>
<path d="M274.72,380.98h14.29v6.96h-14.29zM288.91,380.98h1.10v6.96h-1.10zM274.72,387.84h14.29v1.10h-14.29z" fill="#460b5e"/>
<path d="M289.01,380.98h14.29v6.96h-14.29zM303.21,380.98h1.10v6.96h-1.10z" fill="#450457"/>
<path d="M303.31,380.98h14.29v6.96h-14.29zM303.31,387.84h14.29v1.10h-14.29z" fill="#440154"/>
<path d="M74.59,387.94h14.29v6.96h-14.29zM88.79,387.94h1.10v6.96h-1.10zM74.59,394.80h14.29v1.10h-14.29z" fill="#440154"/>
<path d="M88.88,387.94h14.29v6.96h-14.29zM103.08,387.94h1.10v6.96h-1.10zM88.88,394.80h14.29v1.10h-14.29z" fill="#460b5e"/>
<path d="M103.18,387.94h14.29v6.96h-14.29zM117.38,387.94h1.10v6.96h-1.10zM103.18,394.80h14.29v1.10h-14.29z" fill="#3b528b"/>
<path d="M117.47,387.94h14.29v6.96h-14.29zM131.67,387.94h1.10v6.96h-1.10zM117.47,394.80h14.29v1.10h-14.29z" fill="#375a8c"/>
<path d="M131.77,387.94h14.29v6.96h-14.29zM145.96,387.94h1.10v6.96h-1.10zM131.77,394.80h14.29v1.10h-14.29z" fill="#26ad81"/>
<path d="M146.06,387.94h14.29v6.96h-14.29zM160.26,387.94h1.10v6.96h-1.10zM146.06,394.80h14.29v1.10h-14.29z" fill="#d2e21b"/>
<path d="M160.36,387.94h14.29v6.96h-14.29zM174.55,387.94h1.10v6.96h-1.10zM160.36,394.80h14.29v1.10h-14.29z" fill="#f1e51d"/>
<path d="M174.65,387.94h14.29v6.96h-14.29zM188.85,387.94h1.10v6.96h-1.10zM174.65,394.80h14.29v1.10h-14.29z" fill="#9bd93c"/>
<path d="M188.95,387.94h14.29v6.96h-14.29zM203.14,387.94h1.10v6.96h-1.10zM188.95,394.80h14.29v1.10h-14.29z" fill="#5ec962"/>
<path d="M203.24,387.94h14.29v6.96h-14.29zM217.44,387.94h1.10v6.96h-1.10zM203.24,394.80h14.29v1.10h-14.29z" fill="#1fa188"/>
<path d="M217.54,387.94h14.29v6.96h-14.29zM231.73,387.94h1.10v6.96h-1.10zM217.54,394.80h14.29v1.10h-14.29z" fill="#2e6f8e"/>
<path d="M231.83,387.94h14.29v6.96h-14.29zM246.03,387.94h1.10v6.96h-1.10zM231.83,394.80h14.29v1.10h-14.29z" fill="#472e7c"/>
<path d="M246.13,387.94h14.29v6.96h-14.29zM260.32,387.94h1.10v6.96h-1.10zM246.13,394.80h14.29v1.10h-14.29z" fill="#471063"/>
<path d="M260.42,387.94h14.29v6.96h-14.29zM274.62,387.94h1.10v6.96h-1.10zM260.42,394.80h14.29v1.10h-14.29z" fill="#481769"/>
<path d="M274.72,387.94h14.29v6.96h-14.29zM274.72,394.80h14.29v1.10h-14.29z" fill="#440154"/>
<path d="M303.31,387.94h14.29v6.96h-14.29z" fill="#440154"/>
<path d="M74.59,394.90h14.29v6.96h-14.29zM88.79,394.90h1.10v6.96h-1.10zM74.59,401.77h14.29v1.10h-14.29z" fill="#440154"/>
<path d="M88.88,394.90h14.29v6.96h-14.29zM103.08,394.90h1.10v6.96h-1.10zM88.88,401.77h14.29v1.10h-14.29z" fill="#481d6f"/>
<path d="M103.18,394.90h14.29v6.96h-14.29zM117.38,394.90h1.10v6.96h-1.10zM103.18,401.77h14.29v1.10h-14.29z" fill="#38588c"/>
<path d="M117.47,394.90h14.29v6.96h-14.29zM131.67,394.90h1.10v6.96h-1.10zM117.47,401.77h14.29v1.10h-14.29z" fill="#31678e"/>
<path d="M131.77,394.90h14.29v6.96h-14.29zM145.96,394.90h1.10v6.96h-1.10zM131.77,401.77h14.29v1.10h-14.29z" fill="#52c569"/>
<path d="M146.06,394.90h14.29v6.96h-14.29zM160.26,394.90h1.10v6.96h-1.10zM146.06,401.77h14.29v1.10h-14.29z" fill="#22a884"/>
<path d="M160.36,394.90h14.29v6.96h-14.29zM174.55,394.90h1.10v6.96h-1.10zM160.36,401.77h14.29v1.10h-14.29z" fill="#6ece58"/>
<path d="M174.65,394.90h14.29v6.96h-14.29zM188.85,394.90h1.10v6.96h-1.10zM174.65,401.77h14.29v1.10h-14.29z" fill="#6ece58"/>
<path d="M188.95,394.90h14.29v6.96h-14.29zM203.14,394.90h1.10v6.96h-1.10zM188.95,401.77h14.29v1.10h-14.29z" fill="#2fb47c"/>
<path d="M203.24,394.90h14.29v6.96h-14.29zM217.44,394.90h1.10v6.96h-1.10zM203.24,401.77h14.29v1.10h-14.29z" fill="#25848e"/>
<path d="M217.54,394.90h14.29v6.96h-14.29zM231.73,394.90h1.10v6.96h-1.10zM217.54,401.77h14.29v1.10h-14.29z" fill="#38588c"/>
<path d="M231.83,394.90h14.29v6.96h-14.29zM246.03,394.90h1.10v6.96h-1.10zM231.83,401.77h14.29v1.10h-14.29z" fill="#433e85"/>
<path d="M246.13,394.90h14.29v6.96h-14.29zM260.32,394.90h1.10v6.96h-1.10zM246.13,401.77h14.29v1.10h-14.29z" fill="#472e7c"/>
<path d="M260.42,394.90h14.29v6.96h-14.29zM274.62,394.90h1.10v6.96h-1.10zM260.42,401.77h14.29v1.10h-14.29z" fill="#450457"/>
<path d="M274.72,394.90h14.29v6.96h-14.29zM274.72,401.77h14.29v1.10h-14.29z" fill="#471063"/>
<path d="M46.00,401.87h14.29v6.96h-14.29z" fill="#440154"/>
<path d="M74.59,401.87h14.29v6.96h-14.29zM88.79,401.87h1.10v6.96h-1.10zM74.59,408.73h14.29v1.10h-14.29z" fill="#46085c"/>
<path d="M88.88,401.87h14.29v6.96h-14.29zM103.08,401.87h1.10v6.96h-1.10zM88.88,408.73h14.29v1.10h-14.29z" fill="#46307e"/>
<path d="M103.18,401.87h14.29v6.96h-14.29zM117.38,401.87h1.10v6.96h-1.10zM103.18,408.73h14.29v1.10h-14.29z" fill="#38588c"/>
<path d="M117.47,401.87h14.29v6.96h-14.29zM131.67,401.87h1.10v6.96h-1.10zM117.47,408.73h14.29v1.10h-14.29z" fill="#2d718e"/>
<path d="M131.77,401.87h14.29v6.96h-14.29zM145.96,401.87h1.10v6.96h-1.10zM131.77,408.73h14.29v1.10h-14.29z" fill="#22a884"/>
<path d="M146.06,401.87h14.29v6.96h-14.29zM160.26,401.87h1.10v6.96h-1.10zM146.06,408.73h14.29v1.10h-14.29z" fill="#44bf70"/>
<path d="M160.36,401.87h14.29v6.96h-14.29zM174.55,401.87h1.10v6.96h-1.10zM160.36,408.73h14.29v1.10h-14.29z" fill="#2fb47c"/>
<path d="M174.65,401.87h14.29v6.96h-14.29zM188.85,401.87h1.10v6.96h-1.10zM174.65,408.73h14.29v1.10h-14.29z" fill="#9bd93c"/>
<path d="M188.95,401.87h14.29v6.96h-14.29zM203.14,401.87h1.10v6.96h-1.10zM188.95,408.73h14.29v1.10h-14.29z" fill="#21918c"/>
<path d="M203.24,401.87h14.29v6.96h-14.29zM217.44,401.87h1.10v6.96h-1.10zM203.24,408.73h14.29v1.10h-14.29z" fill="#31678e"/>
<path d="M217.54,401.87h14.29v6.96h-14.29zM231.73,401.87h1.10v6.96h-1.10zM217.54,408.73h14.29v1.10h-14.29z" fill="#463480"/>
<path d="M231.83,401.87h14.29v6.96h-14.29zM246.03,401.87h1.10v6.96h-1.10zM231.83,408.73h14.29v1.10h-14.29z" fill="#481d6f"/>
<path d="M246.13,401.87h14.29v6.96h-14.29zM260.32,401.87h1.10v6.96h-1.10zM246.13,408.73h14.29v1.10h-14.29z" fill="#481d6f"/>
<path d="M260.42,401.87h14.29v6.96h-14.29zM274.62,401.87h1.10v6.96h-1.10zM260.42,408.73h14.29v1.10h-14.29z" fill="#46085c"/>
<path d="M274.72,401.87h14.29v6.96h-14.29zM288.91,401.87h1.10v6.96h-1.10z" fill="#46085c"/>
<path d="M289.01,401.87h14.29v6.96h-14.29z" fill="#440154"/>
<path d="M74.59,408.83h14.29v6.96h-14.29zM88.79,408.83h1.10v6.96h-1.10zM74.59,415.69h14.29v1.10h-14.29z" fill="#460b5e"/>
<path d="M88.88,408.83h14.29v6.96h-14.29zM103.08,408.83h1.10v6.96h-1.10zM88.88,415.69h14.29v1.10h-14.29z" fill="#481a6c"/>
<path d="M103.18,408.83h14.29v6.96h-14.29zM117.38,408.83h1.10v6.96h-1.10zM103.18,415.69h14.29v1.10h-14.29z" fill="#3b528b"/>
<path d="M117.47,408.83h14.29v6.96h-14.29zM131.67,408.83h1.10v6.96h-1.10zM117.47,415.69h14.29v1.10h-14.29z" fill="#25848e"/>
<path d="M131.77,408.83h14.29v6.96h-14.29zM145.96,408.83h1.10v6.96h-1.10zM131.77,415.69h14.29v1.10h-14.29z" fill="#21918c"/>
<path d="M146.06,408.83h14.29v6.96h-14.29zM160.26,408.83h1.10v6.96h-1.10zM146.06,415.69h14.29v1.10h-14.29z" fill="#26ad81"/>
<path d="M160.36,408.83h14.29v6.96h-14.29zM174.55,408.83h1.10v6.96h-1.10zM160.36,415.69h14.29v1.10h-14.29z" fill="#37b878"/>
<path d="M174.65,408.83h14.29v6.96h-14.29zM188.85,408.83h1.10v6.96h-1.10zM174.65,415.69h14.29v1.10h-14.29z" fill="#44bf70"/>
<path d="M188.95,408.83h14.29v6.96h-14.29zM203.14,408.83h1.10v6.96h-1.10zM188.95,415.69h14.29v1.10h-14.29z" fill="#23898e"/>
<path d="M203.24,408.83h14.29v6.96h-14.29zM217.44,408.83h1.10v6.96h-1.10zM203.24,415.69h14.29v1.10h-14.29z" fill="#355f8d"/>
<path d="M217.54,408.83h14.29v6.96h-14.29zM231.73,408.83h1.10v6.96h-1.10zM217.54,415.69h14.29v1.10h-14.29z" fill="#463480"/>
<path d="M231.83,408.83h14.29v6.96h-14.29zM246.03,408.83h1.10v6.96h-1.10zM231.83,415.69h14.29v1.10h-14.29z" fill="#482475"/>
<path d="M246.13,408.83h14.29v6.96h-14.29zM260.32,408.83h1.10v6.96h-1.10zM246.13,415.69h14.29v1.10h-14.29z" fill="#471063"/>
<path d="M260.42,408.83h14.29v6.96h-14.29zM260.42,415.69h14.29v1.10h-14.29z" fill="#46085c"/>
<path d="M60.30,415.79h14.29v6.96h-14.29zM74.49,415.79h1.10v6.96h-1.10zM60.30,422.66h14.29v1.10h-14.29z" fill="#440154"/>
<path d="M74.59,415.79h14.29v6.96h-14.29zM88.79,415.79h1.10v6.96h-1.10zM74.59,422.66h14.29v1.10h-14.29z" fill="#450457"/>
<path d="M88.88,415.79h14.29v6.96h-14.29zM103.08,415.79h1.10v6.96h-1.10zM88.88,422.66h14.29v1.10h-14.29z" fill="#443a83"/>
<path d="M103.18,415.79h14.29v6.96h-14.29zM117.38,415.79h1.10v6.96h-1.10zM103.18,422.66h14.29v1.10h-14.29z" fill="#38588c"/>
<path d="M117.47,415.79h14.29v6.96h-14.29zM131.67,415.79h1.10v6.96h-1.10zM117.47,422.66h14.29v1.10h-14.29z" fill="#2d718e"/>
<path d="M131.77,415.79h14.29v6.96h-14.29zM145.96,415.79h1.10v6.96h-1.10zM131.77,422.66h14.29v1.10h-14.29z" fill="#25848e"/>
<path d="M146.06,415.79h14.29v6.96h-14.29zM160.26,415.79h1.10v6.96h-1.10zM146.06,422.66h14.29v1.10h-14.29z" fill="#26ad81"/>
<path d="M160.36,415.79h14.29v6.96h-14.29zM174.55,415.79h1.10v6.96h-1.10zM160.36,422.66h14.29v1.10h-14.29z" fill="#25848e"/>
<path d="M174.65,415.79h14.29v6.96h-14.29zM188.85,415.79h1.10v6.96h-1.10zM174.65,422.66h14.29v1.10h-14.29z" fill="#2d718e"/>
<path d="M188.95,415.79h14.29v6.96h-14.29zM203.14,415.79h1.10v6.96h-1.10zM188.95,422.66h14.29v1.10h-14.29z" fill="#2d718e"/>
<path d="M203.24,415.79h14.29v6.96h-14.29zM217.44,415.79h1.10v6.96h-1.10zM203.24,422.66h14.29v1.10h-14.29z" fill="#3e4989"/>
<path d="M217.54,415.79h14.29v6.96h-14.29zM231.73,415.79h1.10v6.96h-1.10zM217.54,422.66h14.29v1.10h-14.29z" fill="#481d6f"/>
<path d="M231.83,415.79h14.29v6.96h-14.29zM246.03,415.79h1.10v6.96h-1.10zM231.83,422.66h14.29v1.10h-14.29z" fill="#481d6f"/>
<path d="M246.13,415.79h14.29v6.96h-14.29zM260.32,415.79h1.10v6.96h-1.10zM246.13,422.66h14.29v1.10h-14.29z" fill="#471063"/>
<path d="M260.42,415.79h14.29v6.96h-14.29zM274.62,415.79h1.10v6.96h-1.10zM260.42,422.66h14.29v1.10h-14.29z" fill="#46085c"/>
<path d="M274.72,415.79h14.29v6.96h-14.29zM274.72,422.66h14.29v1.10h-14.29z" fill="#46085c"/>
<path d="M60.30,422.76h14.29v6.96h-14.29zM74.49,422.76h1.10v6.96h-1.10zM60.30,429.62h14.29v1.10h-14.29z" fill="#440154"/>
<path d="M74.59,422.76h14.29v6.96h-14.29zM88.79,422.76h1.10v6.96h-1.10zM74.59,429.62h14.29v1.10h-14.29z" fill="#471365"/>
<path d="M88.88,422.76h14.29v6.96h-14.29zM103.08,422.76h1.10v6.96h-1.10zM88.88,429.62h14.29v1.10h-14.29z" fill="#481d6f"/>
<path d="M103.18,422.76h14.29v6.96h-14.29zM117.38,422.76h1.10v6.96h-1.10zM103.18,429.62h14.29v1.10h-14.29z" fill="#433e85"/>
<path d="M117.47,422.76h14.29v6.96h-14.29zM131.67,422.76h1.10v6.96h-1.10zM117.47,429.62h14.29v1.10h-14.29z" fill="#306a8e"/>
<path d="M131.77,422.76h14.29v6.96h-14.29zM145.96,422.76h1.10v6.96h-1.10zM131.77,429.62h14.29v1.10h-14.29z" fill="#27808e"/>
<path d="M146.06,422.76h14.29v6.96h-14.29zM160.26,422.76h1.10v6.96h-1.10zM146.06,429.62h14.29v1.10h-14.29z" fill="#21918c"/>
<path d="M160.36,422.76h14.29v6.96h-14.29zM174.55,422.76h1.10v6.96h-1.10zM160.36,429.62h14.29v1.10h-14.29z" fill="#2d718e"/>
<path d="M174.65,422.76h14.29v6.96h-14.29zM188.85,422.76h1.10v6.96h-1.10zM174.65,429.62h14.29v1.10h-14.29z" fill="#31678e"/>
<path d="M188.95,422.76h14.29v6.96h-14.29zM203.14,422.76h1.10v6.96h-1.10zM188.95,429.62h14.29v1.10h-14.29z" fill="#433e85"/>
<path d="M203.24,422.76h14.29v6.96h-14.29zM217.44,422.76h1.10v6.96h-1.10zM203.24,429.62h14.29v1.10h-14.29z" fill="#481a6c"/>
<path d="M217.54,422.76h14.29v6.96h-14.29zM231.73,422.76h1.10v6.96h-1.10zM217.54,429.62h14.29v1.10h-14.29z" fill="#481a6c"/>
<path d="M231.83,422.76h14.29v6.96h-14.29zM246.03,422.76h1.10v6.96h-1.10zM231.83,429.62h14.29v1.10h-14.29z" fill="#440154"/>
<path d="M246.13,422.76h14.29v6.96h-14.29zM260.32,422.76h1.10v6.96h-1.10zM246.13,429.62h14.29v1.10h-14.29z" fill="#440154"/>
<path d="M260.42,422.76h14.29v6.96h-14.29zM274.62,422.76h1.10v6.96h-1.10z" fill="#440154"/>
<path d="M274.72,422.76h14.29v6.96h-14.29z" fill="#440154"/>
<path d="M60.30,429.72h14.29v6.96h-14.29zM74.49,429.72h1.10v6.96h-1.10z" fill="#440154"/>
<path d="M74.59,429.72h14.29v6.96h-14.29zM88.79,429.72h1.10v6.96h-1.10zM74.59,436.58h14.29v1.10h-14.29z" fill="#46085c"/>
<path d="M88.88,429.72h14.29v6.96h-14.29zM103.08,429.72h1.10v6.96h-1.10zM88.88,436.58h14.29v1.10h-14.29z" fill="#482173"/>
<path d="M103.18,429.72h14.29v6.96h-14.29zM117.38,429.72h1.10v6.96h-1.10zM103.18,436.58h14.29v1.10h-14.29z" fill="#443a83"/>
<path d="M117.47,429.72h14.29v6.96h-14.29zM131.67,429.72h1.10v6.96h-1.10zM117.47,436.58h14.29v1.10h-14.29z" fill="#365d8d"/>
<path d="M131.77,429.72h14.29v6.96h-14.29zM145.96,429.72h1.10v6.96h-1.10zM131.77,436.58h14.29v1.10h-14.29z" fill="#297a8e"/>
<path d="M146.06,429.72h14.29v6.96h-14.29zM160.26,429.72h1.10v6.96h-1.10zM146.06,436.58h14.29v1.10h-14.29z" fill="#32648e"/>
<path d="M160.36,429.72h14.29v6.96h-14.29zM174.55,429.72h1.10v6.96h-1.10zM160.36,436.58h14.29v1.10h-14.29z" fill="#3b528b"/>
<path d="M174.65,429.72h14.29v6.96h-14.29zM188.85,429.72h1.10v6.96h-1.10zM174.65,436.58h14.29v1.10h-14.29z" fill="#3e4989"/>
<path d="M188.95,429.72h14.29v6.96h-14.29zM203.14,429.72h1.10v6.96h-1.10zM188.95,436.58h14.29v1.10h-14.29z" fill="#414487"/>
<path d="M203.24,429.72h14.29v6.96h-14.29zM217.44,429.72h1.10v6.96h-1.10zM203.24,436.58h14.29v1.10h-14.29z" fill="#471365"/>
<path d="M217.54,429.72h14.29v6.96h-14.29zM231.73,429.72h1.10v6.96h-1.10zM217.54,436.58h14.29v1.10h-14.29z" fill="#460b5e"/>
<path d="M231.83,429.72h14.29v6.96h-14.29zM246.03,429.72h1.10v6.96h-1.10zM231.83,436.58h14.29v1.10h-14.29z" fill="#440154"/>
<path d="M246.13,429.72h14.29v6.96h-14.29zM246.13,436.58h14.29v1.10h-14.29z" fill="#46085c"/>
<path d="M74.59,436.68h14.29v6.96h-14.29zM88.79,436.68h1.10v6.96h-1.10zM74.59,443.55h14.29v1.10h-14.29z" fill="#460b5e"/>
<path d="M88.88,436.68h14.29v6.96h-14.29zM103.08,436.68h1.10v6.96h-1.10zM88.88,443.55h14.29v1.10h-14.29z" fill="#481d6f"/>
<path d="M103.18,436.68h14.29v6.96h-14.29zM117.38,436.68h1.10v6.96h-1.10zM103.18,443.55h14.29v1.10h-14.29z" fill="#482878"/>
<path d="M117.47,436.68h14.29v6.96h-14.29zM131.67,436.68h1.10v6.96h-1.10zM117.47,443.55h14.29v1.10h-14.29z" fill="#355f8d"/>
<path d="M131.77,436.68h14.29v6.96h-14.29zM145.96,436.68h1.10v6.96h-1.10zM131.77,443.55h14.29v1.10h-14.29z" fill="#414487"/>
<path d="M146.06,436.68h14.29v6.96h-14.29zM160.26,436.68h1.10v6.96h-1.10zM146.06,443.55h14.29v1.10h-14.29z" fill="#433e85"/>
<path d="M160.36,436.68h14.29v6.96h-14.29zM174.55,436.68h1.10v6.96h-1.10zM160.36,443.55h14.29v1.10h-14.29z" fill="#481769"/>
<path d="M174.65,436.68h14.29v6.96h-14.29zM188.85,436.68h1.10v6.96h-1.10zM174.65,443.55h14.29v1.10h-14.29z" fill="#433e85"/>
<path d="M188.95,436.68h14.29v6.96h-14.29zM203.14,436.68h1.10v6.96h-1.10zM188.95,443.55h14.29v1.10h-14.29z" fill="#481769"/>
<path d="M203.24,436.68h14.29v6.96h-14.29zM217.44,436.68h1.10v6.96h-1.10zM203.24,443.55h14.29v1.10h-14.29z" fill="#460b5e"/>
<path d="M217.54,436.68h14.29v6.96h-14.29zM231.73,436.68h1.10v6.96h-1.10z" fill="#440154"/>
<path d="M231.83,436.68h14.29v6.96h-14.29zM246.03,436.68h1.10v6.96h-1.10zM231.83,443.55h14.29v1.10h-14.29z" fill="#440154"/>
<path d="M246.13,436.68h14.29v6.96h-14.29z" fill="#46085c"/>
<path d="M46.00,443.65h14.29v6.96h-14.29zM60.20,443.65h1.10v6.96h-1.10z" fill="#440154"/>
<path d="M60.30,443.65h14.29v6.96h-14.29zM74.49,443.65h1.10v6.96h-1.10zM60.30,450.51h14.29v1.10h-14.29z" fill="#450457"/>
<path d="M74.59,443.65h14.29v6.96h-14.29zM88.79,443.65h1.10v6.96h-1.10zM74.59,450.51h14.29v1.10h-14.29z" fill="#481a6c"/>
<path d="M88.88,443.65h14.29v6.96h-14.29zM103.08,443.65h1.10v6.96h-1.10zM88.88,450.51h14.29v1.10h-14.29z" fill="#471365"/>
<path d="M103.18,443.65h14.29v6.96h-14.29zM117.38,443.65h1.10v6.96h-1.10zM103.18,450.51h14.29v1.10h-14.29z" fill="#481a6c"/>
<path d="M117.47,443.65h14.29v6.96h-14.29zM131.67,443.65h1.10v6.96h-1.10zM117.47,450.51h14.29v1.10h-14.29z" fill="#472a7a"/>
<path d="M131.77,443.65h14.29v6.96h-14.29zM145.96,443.65h1.10v6.96h-1.10zM131.77,450.51h14.29v1.10h-14.29z" fill="#482475"/>
<path d="M146.06,443.65h14.29v6.96h-14.29zM160.26,443.65h1.10v6.96h-1.10zM146.06,450.51h14.29v1.10h-14.29z" fill="#481a6c"/>
<path d="M160.36,443.65h14.29v6.96h-14.29zM174.55,443.65h1.10v6.96h-1.10zM160.36,450.51h14.29v1.10h-14.29z" fill="#472e7c"/>
<path d="M174.65,443.65h14.29v6.96h-14.29zM188.85,443.65h1.10v6.96h-1.10zM174.65,450.51h14.29v1.10h-14.29z" fill="#481a6c"/>
<path d="M188.95,443.65h14.29v6.96h-14.29zM203.14,443.65h1.10v6.96h-1.10zM188.95,450.51h14.29v1.10h-14.29z" fill="#481769"/>
<path d="M203.24,443.65h14.29v6.96h-14.29zM203.24,450.51h14.29v1.10h-14.29z" fill="#440154"/>
<path d="M231.83,443.65h14.29v6.96h-14.29z" fill="#440154"/>
<path d="M60.30,450.61h14.29v6.96h-14.29zM74.49,450.61h1.10v6.96h-1.10z" fill="#440154"/>
<path d="M74.59,450.61h14.29v6.96h-14.29zM88.79,450.61h1.10v6.96h-1.10zM74.59,457.47h14.29v1.10h-14.29z" fill="#471365"/>
<path d="M88.88,450.61h14.29v6.96h-14.29zM103.08,450.61h1.10v6.96h-1.10zM88.88,457.47h14.29v1.10h-14.29z" fill="#460b5e"/>
<path d="M103.18,450.61h14.29v6.96h-14.29zM117.38,450.61h1.10v6.96h-1.10zM103.18,457.47h14.29v1.10h-14.29z" fill="#46085c"/>
<path d="M117.47,450.61h14.29v6.96h-14.29zM131.67,450.61h1.10v6.96h-1.10z" fill="#471365"/>
<path d="M131.77,450.61h14.29v6.96h-14.29zM145.96,450.61h1.10v6.96h-1.10z" fill="#481d6f"/>
<path d="M146.06,450.61h14.29v6.96h-14.29zM160.26,450.61h1.10v6.96h-1.10zM146.06,457.47h14.29v1.10h-14.29z" fill="#481a6c"/>
<path d="M160.36,450.61h14.29v6.96h-14.29zM174.55,450.61h1.10v6.96h-1.10zM160.36,457.47h14.29v1.10h-14.29z" fill="#471365"/>
<path d="M174.65,450.61h14.29v6.96h-14.29zM188.85,450.61h1.10v6.96h-1.10zM174.65,457.47h14.29v1.10h-14.29z" fill="#471365"/>
<path d="M188.95,450.61h14.29v6.96h-14.29zM203.14,450.61h1.10v6.96h-1.10zM188.95,457.47h14.29v1.10h-14.29z" fill="#440154"/>
<path d="M203.24,450.61h14.29v6.96h-14.29zM217.44,450.61h1.10v6.96h-1.10zM203.24,457.47h14.29v1.10h-14.29z" fill="#440154"/>
<path d="M217.54,450.61h14.29v6.96h-14.29z" fill="#460b5e"/>
<path d="M74.59,457.57h14.29v6.96h-14.29zM88.79,457.57h1.10v6.96h-1.10zM74.59,464.44h14.29v1.10h-14.29z" fill="#46085c"/>
<path d="M88.88,457.57h14.29v6.96h-14.29zM103.08,457.57h1.10v6.96h-1.10zM88.88,464.44h14.29v1.10h-14.29z" fill="#440154"/>
<path d="M103.18,457.57h14.29v6.96h-14.29zM103.18,464.44h14.29v1.10h-14.29z" fill="#440154"/>
<path d="M146.06,457.57h14.29v6.96h-14.29zM160.26,457.57h1.10v6.96h-1.10z" fill="#481a6c"/>
<path d="M160.36,457.57h14.29v6.96h-14.29zM174.55,457.57h1.10v6.96h-1.10z" fill="#460b5e"/>
<path d="M174.65,457.57h14.29v6.96h-14.29zM188.85,457.57h1.10v6.96h-1.10z" fill="#46085c"/>
<path d="M188.95,457.57h14.29v6.96h-14.29zM203.14,457.57h1.10v6.96h-1.10z" fill="#440154"/>
<path d="M203.24,457.57h14.29v6.96h-14.29z" fill="#440154"/>
<path d="M74.59,464.54h14.29v6.96h-14.29zM88.79,464.54h1.10v6.96h-1.10z" fill="#46085c"/>
<path d="M88.88,464.54h14.29v6.96h-14.29zM103.08,464.54h1.10v6.96h-1.10z" fill="#440154"/>
<path d="M103.18,464.54h14.29v6.96h-14.29zM117.38,464.54h1.10v6.96h-1.10z" fill="#440154"/>
<path d="M117.47,464.54h14.29v6.96h-14.29zM131.67,464.54h1.10v6.96h-1.10z" fill="#450457"/>
<path d="M131.77,464.54h14.29v6.96h-14.29z" fill="#450457"/>
</g>
<rect x="46.00" y="262.60" width="285.90" height="208.90" fill="none" stroke="#000" stroke-width="0.7"/>
<line x1="46.00" y1="415.10" x2="43.10" y2="415.10" stroke="#000" stroke-width="0.7"/>
<text x="40.10" y="419.00" font-size="10.81" text-anchor="end" fill="#000" textLength="12.89" lengthAdjust="spacingAndGlyphs">50</text>
<line x1="46.00" y1="345.46" x2="43.10" y2="345.46" stroke="#000" stroke-width="0.7"/>
<text x="40.10" y="349.36" font-size="10.81" text-anchor="end" fill="#000" textLength="19.63" lengthAdjust="spacingAndGlyphs">100</text>
<line x1="46.00" y1="275.83" x2="43.10" y2="275.83" stroke="#000" stroke-width="0.7"/>
<text x="40.10" y="279.73" font-size="10.81" text-anchor="end" fill="#000" textLength="19.63" lengthAdjust="spacingAndGlyphs">150</text>
<line x1="81.74" y1="471.50" x2="81.74" y2="474.40" stroke="#000" stroke-width="0.7"/>
<text x="81.74" y="485.10" font-size="10.81" text-anchor="middle" fill="#000" textLength="12.89" lengthAdjust="spacingAndGlyphs">10</text>
<line x1="153.21" y1="471.50" x2="153.21" y2="474.40" stroke="#000" stroke-width="0.7"/>
<text x="153.21" y="485.10" font-size="10.81" text-anchor="middle" fill="#000" textLength="12.89" lengthAdjust="spacingAndGlyphs">15</text>
<line x1="224.69" y1="471.50" x2="224.69" y2="474.40" stroke="#000" stroke-width="0.7"/>
<text x="224.69" y="485.10" font-size="10.81" text-anchor="middle" fill="#000" textLength="12.89" lengthAdjust="spacingAndGlyphs">20</text>
<line x1="296.16" y1="471.50" x2="296.16" y2="474.40" stroke="#000" stroke-width="0.7"/>
<text x="296.16" y="485.10" font-size="10.81" text-anchor="middle" fill="#000" textLength="12.89" lengthAdjust="spacingAndGlyphs">25</text>
<text x="14.20" y="379.50" font-size="20.20" text-anchor="start" fill="#000" font-style="italic" textLength="9.80" lengthAdjust="spacingAndGlyphs" transform="rotate(-90 14.20 379.50)">n</text>
<text x="16.30" y="369.20" font-size="12.65" text-anchor="start" fill="#000" font-style="italic" textLength="15.40" lengthAdjust="spacingAndGlyphs" transform="rotate(-90 16.30 369.20)">TP</text>
<text x="180.20" y="502.70" font-size="20.20" text-anchor="start" fill="#000" font-style="italic" textLength="9.80" lengthAdjust="spacingAndGlyphs">n</text>
<text x="190.60" y="504.90" font-size="12.65" text-anchor="start" fill="#000" font-style="italic" textLength="7.80" lengthAdjust="spacingAndGlyphs">P</text>
<clipPath id="c4"><rect x="388.5" y="262.7" width="289.4" height="208.3"/></clipPath>
<g clip-path="url(#c4)">
<g fill="#f00"><circle cx="389.00" cy="293.30" r="1.5"/><circle cx="389.70" cy="302.60" r="1.5"/><circle cx="391.30" cy="304.20" r="1.5"/><circle cx="393.00" cy="305.20" r="1.5"/><circle cx="394.90" cy="305.50" r="1.5"/><circle cx="396.30" cy="309.50" r="1.5"/><circle cx="398.30" cy="313.10" r="1.5"/><circle cx="400.10" cy="316.80" r="1.5"/><circle cx="402.30" cy="321.80" r="1.5"/><circle cx="404.10" cy="340.60" r="1.5"/><circle cx="405.97" cy="365.10" r="1.5"/><circle cx="407.80" cy="389.70" r="1.5"/><circle cx="409.70" cy="402.20" r="1.5"/><circle cx="411.60" cy="410.20" r="1.5"/><circle cx="413.50" cy="417.70" r="1.5"/><circle cx="415.50" cy="424.90" r="1.5"/><circle cx="417.50" cy="426.90" r="1.5"/><circle cx="419.50" cy="428.80" r="1.5"/><circle cx="421.60" cy="430.80" r="1.5"/><circle cx="423.30" cy="439.20" r="1.5"/><circle cx="425.10" cy="446.60" r="1.5"/><circle cx="427.30" cy="448.10" r="1.5"/><circle cx="429.00" cy="457.90" r="1.5"/><circle cx="431.00" cy="454.60" r="1.5"/><circle cx="433.00" cy="462.00" r="1.5"/><circle cx="434.80" cy="459.00" r="1.5"/><circle cx="436.70" cy="453.40" r="1.5"/><circle cx="438.60" cy="454.20" r="1.5"/><circle cx="440.50" cy="454.30" r="1.5"/><circle cx="442.50" cy="449.00" r="1.5"/><circle cx="444.30" cy="444.30" r="1.5"/><circle cx="446.30" cy="444.00" r="1.5"/><circle cx="448.40" cy="444.00" r="1.5"/><circle cx="450.30" cy="453.70" r="1.5"/><circle cx="452.10" cy="466.00" r="1.5"/><circle cx="453.70" cy="470.70" r="1.5"/><circle cx="455.68" cy="470.70" r="1.5"/><circle cx="457.65" cy="470.70" r="1.5"/><circle cx="459.62" cy="470.70" r="1.5"/><circle cx="461.60" cy="470.70" r="1.5"/><circle cx="463.57" cy="470.70" r="1.5"/><circle cx="465.55" cy="470.70" r="1.5"/><circle cx="467.52" cy="470.70" r="1.5"/><circle cx="469.50" cy="470.70" r="1.5"/><circle cx="471.47" cy="470.70" r="1.5"/><circle cx="473.45" cy="470.70" r="1.5"/><circle cx="475.43" cy="470.70" r="1.5"/><circle cx="477.40" cy="470.70" r="1.5"/><circle cx="479.38" cy="470.70" r="1.5"/><circle cx="481.35" cy="470.70" r="1.5"/><circle cx="483.32" cy="470.70" r="1.5"/><circle cx="485.30" cy="470.70" r="1.5"/><circle cx="487.27" cy="470.70" r="1.5"/><circle cx="489.25" cy="470.70" r="1.5"/><circle cx="491.22" cy="470.70" r="1.5"/><circle cx="493.20" cy="470.70" r="1.5"/><circle cx="495.00" cy="467.76" r="1.5"/><circle cx="496.80" cy="464.81" r="1.5"/><circle cx="498.60" cy="461.87" r="1.5"/><circle cx="500.40" cy="458.93" r="1.5"/><circle cx="502.20" cy="455.99" r="1.5"/><circle cx="504.00" cy="453.04" r="1.5"/><circle cx="505.80" cy="450.10" r="1.5"/><circle cx="507.80" cy="452.30" r="1.5"/><circle cx="509.77" cy="450.63" r="1.5"/><circle cx="511.73" cy="448.97" r="1.5"/><circle cx="513.70" cy="447.30" r="1.5"/><circle cx="515.70" cy="448.60" r="1.5"/><circle cx="517.70" cy="452.10" r="1.5"/><circle cx="519.70" cy="451.10" r="1.5"/><circle cx="521.70" cy="450.10" r="1.5"/><circle cx="523.70" cy="450.10" r="1.5"/><circle cx="525.30" cy="453.30" r="1.5"/><circle cx="527.30" cy="453.30" r="1.5"/><circle cx="529.30" cy="453.30" r="1.5"/><circle cx="531.30" cy="453.30" r="1.5"/><circle cx="533.30" cy="453.30" r="1.5"/><circle cx="535.30" cy="453.30" r="1.5"/><circle cx="537.30" cy="453.30" r="1.5"/><circle cx="539.30" cy="453.30" r="1.5"/><circle cx="541.30" cy="453.30" r="1.5"/><circle cx="543.30" cy="453.30" r="1.5"/><circle cx="544.90" cy="449.00" r="1.5"/><circle cx="546.20" cy="443.50" r="1.5"/><circle cx="548.20" cy="442.10" r="1.5"/><circle cx="550.09" cy="442.10" r="1.5"/><circle cx="551.97" cy="442.10" r="1.5"/><circle cx="553.86" cy="442.10" r="1.5"/><circle cx="555.74" cy="442.10" r="1.5"/><circle cx="557.63" cy="442.10" r="1.5"/><circle cx="559.51" cy="442.10" r="1.5"/><circle cx="561.40" cy="442.10" r="1.5"/><circle cx="563.10" cy="440.40" r="1.5"/><circle cx="564.83" cy="438.10" r="1.5"/><circle cx="566.57" cy="435.80" r="1.5"/><circle cx="568.30" cy="433.50" r="1.5"/><circle cx="569.40" cy="422.10" r="1.5"/><circle cx="571.90" cy="422.10" r="1.5"/><circle cx="573.83" cy="423.88" r="1.5"/><circle cx="575.75" cy="425.65" r="1.5"/><circle cx="577.67" cy="427.43" r="1.5"/><circle cx="579.60" cy="429.20" r="1.5"/><circle cx="581.80" cy="428.90" r="1.5"/><circle cx="583.80" cy="423.60" r="1.5"/><circle cx="585.40" cy="419.10" r="1.5"/><circle cx="586.90" cy="412.50" r="1.5"/><circle cx="588.97" cy="410.47" r="1.5"/><circle cx="591.03" cy="408.43" r="1.5"/><circle cx="593.10" cy="406.40" r="1.5"/><circle cx="595.70" cy="401.90" r="1.5"/><circle cx="597.95" cy="397.35" r="1.5"/><circle cx="600.20" cy="392.80" r="1.5"/><circle cx="601.95" cy="392.20" r="1.5"/><circle cx="603.70" cy="391.60" r="1.5"/><circle cx="605.32" cy="390.95" r="1.5"/><circle cx="606.93" cy="390.30" r="1.5"/><circle cx="608.55" cy="389.65" r="1.5"/><circle cx="610.72" cy="393.92" r="1.5"/><circle cx="612.90" cy="398.20" r="1.5"/><circle cx="614.65" cy="402.60" r="1.5"/><circle cx="616.40" cy="407.00" r="1.5"/><circle cx="618.20" cy="416.50" r="1.5"/><circle cx="619.80" cy="423.45" r="1.5"/><circle cx="621.40" cy="430.40" r="1.5"/><circle cx="623.50" cy="430.70" r="1.5"/><circle cx="625.75" cy="428.00" r="1.5"/><circle cx="627.72" cy="431.27" r="1.5"/><circle cx="629.68" cy="434.53" r="1.5"/><circle cx="631.65" cy="437.80" r="1.5"/><circle cx="633.00" cy="430.30" r="1.5"/><circle cx="635.08" cy="430.30" r="1.5"/><circle cx="637.17" cy="430.30" r="1.5"/><circle cx="639.25" cy="430.30" r="1.5"/><circle cx="641.33" cy="430.30" r="1.5"/><circle cx="643.42" cy="430.30" r="1.5"/><circle cx="645.50" cy="430.30" r="1.5"/><circle cx="647.45" cy="428.00" r="1.5"/><circle cx="649.30" cy="424.70" r="1.5"/><circle cx="651.20" cy="421.40" r="1.5"/><circle cx="652.60" cy="405.10" r="1.5"/><circle cx="654.70" cy="403.10" r="1.5"/><circle cx="656.80" cy="401.10" r="1.5"/><circle cx="658.80" cy="396.60" r="1.5"/><circle cx="660.55" cy="388.80" r="1.5"/><circle cx="662.50" cy="375.90" r="1.5"/><circle cx="664.30" cy="354.40" r="1.5"/><circle cx="666.30" cy="338.80" r="1.5"/><circle cx="668.20" cy="315.60" r="1.5"/><circle cx="670.20" cy="294.00" r="1.5"/><circle cx="672.20" cy="301.00" r="1.5"/><circle cx="674.00" cy="310.90" r="1.5"/><circle cx="676.00" cy="320.60" r="1.5"/><circle cx="677.15" cy="330.45" r="1.5"/></g>
<polyline fill="none" stroke="#000" stroke-width="1.2" stroke-linejoin="round" points="389.00,293.30 389.70,302.60 391.30,304.20 393.00,305.20 394.90,305.50 396.30,309.50 398.30,313.10 400.10,316.80 402.30,321.80 404.10,340.60 405.97,365.10 407.80,389.70 409.70,402.20 411.60,410.20 413.50,417.70 415.50,424.90 417.50,426.90 419.50,428.80 421.60,430.80 423.30,439.20 425.10,446.60 427.30,448.10 429.00,457.90 431.00,454.60 433.00,462.00 434.80,459.00 436.70,453.40 438.60,454.20 440.50,454.30 442.50,449.00 444.30,444.30 446.30,444.00 448.40,444.00 450.30,453.70 452.10,466.00 453.70,470.70 493.20,470.70 505.80,450.10 507.80,452.30 513.70,447.30 515.70,448.60 517.70,452.10 521.70,450.10 523.70,450.10 525.30,453.30 543.30,453.30 544.90,449.00 546.20,443.50 548.20,442.10 561.40,442.10 563.10,440.40 568.30,433.50 569.40,422.10 571.90,422.10 579.60,429.20 581.80,428.90 583.80,423.60 585.40,419.10 586.90,412.50 593.10,406.40 595.70,401.90 600.20,392.80 603.70,391.60 608.55,389.65 612.90,398.20 616.40,407.00 618.20,416.50 621.40,430.40 623.50,430.70 625.75,428.00 631.65,437.80 633.00,430.30 645.50,430.30 647.45,428.00 649.30,424.70 651.20,421.40 652.60,405.10 656.80,401.10 658.80,396.60 660.55,388.80 662.50,375.90 664.30,354.40 666.30,338.80 668.20,315.60 670.20,294.00 672.20,301.00 674.00,310.90 676.00,320.60 677.15,330.45"/>
</g>
<rect x="388.50" y="262.70" width="289.40" height="208.30" fill="none" stroke="#000" stroke-width="0.7"/>
<line x1="388.50" y1="471.00" x2="385.60" y2="471.00" stroke="#000" stroke-width="0.7"/>
<text x="382.60" y="474.90" font-size="10.81" text-anchor="end" fill="#000" textLength="6.14" lengthAdjust="spacingAndGlyphs">0</text>
<line x1="388.50" y1="401.57" x2="385.60" y2="401.57" stroke="#000" stroke-width="0.7"/>
<text x="382.60" y="405.47" font-size="10.81" text-anchor="end" fill="#000" textLength="6.14" lengthAdjust="spacingAndGlyphs">5</text>
<line x1="388.50" y1="332.13" x2="385.60" y2="332.13" stroke="#000" stroke-width="0.7"/>
<text x="382.60" y="336.03" font-size="10.81" text-anchor="end" fill="#000" textLength="12.89" lengthAdjust="spacingAndGlyphs">10</text>
<line x1="388.50" y1="471.00" x2="388.50" y2="473.90" stroke="#000" stroke-width="0.7"/>
<text x="388.50" y="484.90" font-size="10.81" text-anchor="middle" fill="#000" textLength="21.77" lengthAdjust="spacingAndGlyphs">−15</text>
<line x1="436.73" y1="471.00" x2="436.73" y2="473.90" stroke="#000" stroke-width="0.7"/>
<text x="436.73" y="484.90" font-size="10.81" text-anchor="middle" fill="#000" textLength="21.77" lengthAdjust="spacingAndGlyphs">−10</text>
<line x1="484.97" y1="471.00" x2="484.97" y2="473.90" stroke="#000" stroke-width="0.7"/>
<text x="484.97" y="484.90" font-size="10.81" text-anchor="middle" fill="#000" textLength="15.03" lengthAdjust="spacingAndGlyphs">−5</text>
<line x1="533.20" y1="471.00" x2="533.20" y2="473.90" stroke="#000" stroke-width="0.7"/>
<text x="533.20" y="484.90" font-size="10.81" text-anchor="middle" fill="#000" textLength="6.14" lengthAdjust="spacingAndGlyphs">0</text>
<line x1="581.43" y1="471.00" x2="581.43" y2="473.90" stroke="#000" stroke-width="0.7"/>
<text x="581.43" y="484.90" font-size="10.81" text-anchor="middle" fill="#000" textLength="6.14" lengthAdjust="spacingAndGlyphs">5</text>
<line x1="629.67" y1="471.00" x2="629.67" y2="473.90" stroke="#000" stroke-width="0.7"/>
<text x="629.67" y="484.90" font-size="10.81" text-anchor="middle" fill="#000" textLength="12.89" lengthAdjust="spacingAndGlyphs">10</text>
<line x1="677.90" y1="471.00" x2="677.90" y2="473.90" stroke="#000" stroke-width="0.7"/>
<text x="677.90" y="484.90" font-size="10.81" text-anchor="middle" fill="#000" textLength="12.89" lengthAdjust="spacingAndGlyphs">15</text>
<text x="362.5" y="367.3" font-size="14.2" text-anchor="middle" textLength="87.2" lengthAdjust="spacingAndGlyphs" transform="rotate(-90 362.5 367.3)">(1 − <tspan font-style="italic">ε</tspan>) (ppm)</text>
<text x="500.80" y="502.80" font-size="19.00" text-anchor="start" fill="#000" font-style="italic" textLength="9.00" lengthAdjust="spacingAndGlyphs">z</text>
<text x="510.60" y="505.20" font-size="12.65" text-anchor="start" fill="#000" textLength="7.20" lengthAdjust="spacingAndGlyphs">0</text>
<text x="525.30" y="502.80" font-size="18.20" text-anchor="start" fill="#000" textLength="39.50" lengthAdjust="spacingAndGlyphs">(cm)</text>
<rect x="445.40" y="269.40" width="176.20" height="24.40" rx="2.2" fill="#fff" fill-opacity="0.8" stroke="#ccc" stroke-width="0.8"/>
<circle cx="464.3" cy="282.2" r="1.45" fill="#f00"/>
<text x="492.5" y="285.2" font-size="14.2" textLength="122.0" lengthAdjust="spacingAndGlyphs">&lt; 1 − <tspan font-style="italic">ε</tspan> &gt; = 3 ppm</text>
</svg>
</body></html>
